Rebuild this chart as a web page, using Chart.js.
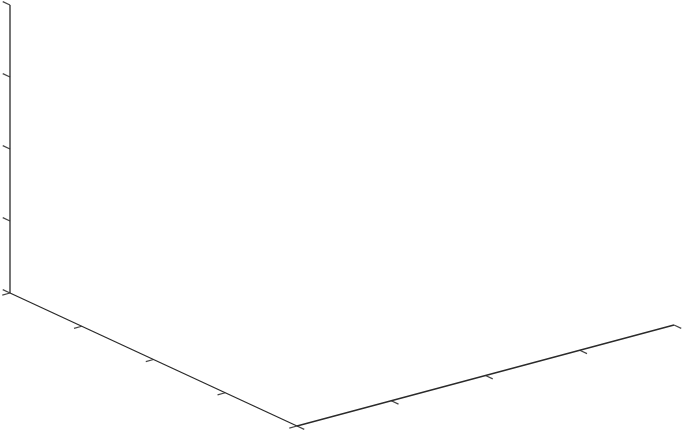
<!DOCTYPE html>
<html>
<head>
<meta charset="utf-8">
<script src="https://cdn.jsdelivr.net/npm/chart.js@4/dist/chart.umd.min.js"></script>
<style>
  html, body { margin: 0; padding: 0; background: #fff; }
  #wrap { width: 685px; height: 432px; }
</style>
</head>
<body>
<div id="wrap"><canvas id="plot"></canvas></div>
<script>
'use strict';

// Axis limits and tick values (empty 3-D axes, no labels shown)
const X_LIM = [0, 1];
const Y_LIM = [0, 1];
const Z_LIM = [0, 1];

const X_TICKS = [0, 0.25, 0.5, 0.75, 1];
const Y_TICKS = [0, 0.25, 0.5, 0.75, 1];
const Z_TICKS = [0, 0.25, 0.5, 0.75, 1];

// View: screen position of the front-bottom corner and axis directions (px)
const CORNER = { x: 297, y: 426 };
const DIR_X = { x: 377, y: -101 };
const DIR_Y = { x: -287, y: -133 };
const DIR_Z = { x: 0, y: -288 };
const TICK_LEN = 8;
const AXIS_COLOR = '#2a2a2a';
const TICK_COLOR = '#444444';

function norm(v, lim) {
    return (v - lim[0]) / (lim[1] - lim[0]);
}

// project a 3-D data point onto the page
function project(x, y, z) {
    const a = norm(x, X_LIM), b = norm(y, Y_LIM), c = norm(z, Z_LIM);
    return {
        x: CORNER.x + a * DIR_X.x + b * DIR_Y.x + c * DIR_Z.x,
        y: CORNER.y + a * DIR_X.y + b * DIR_Y.y + c * DIR_Z.y
    };
}

function unit(v, sign) {
    const l = Math.hypot(v.x, v.y);
    return { x: sign * v.x / l, y: sign * v.y / l };
}

function segment(p, q, colour, width) {
    return {
        data: [p, q],
        showLine: true,
        borderColor: colour,
        borderWidth: width,
        pointRadius: 0,
        fill: false
    };
}

const datasets = [];

// axis lines
datasets.push(segment(project(X_LIM[0], Y_LIM[0], Z_LIM[0]), project(X_LIM[1], Y_LIM[0], Z_LIM[0]), AXIS_COLOR, 1.3));
datasets.push(segment(project(X_LIM[0], Y_LIM[0], Z_LIM[0]), project(X_LIM[0], Y_LIM[1], Z_LIM[0]), AXIS_COLOR, 1.3));
datasets.push(segment(project(X_LIM[0], Y_LIM[1], Z_LIM[0]), project(X_LIM[0], Y_LIM[1], Z_LIM[1]), AXIS_COLOR, 1.3));

// tick marks, pointing out of the box
const outX = unit(DIR_Y, -1);
const outY = unit(DIR_X, -1);
const outZ = unit(DIR_Y, 1);

for (const t of X_TICKS) {
    const p = project(t, Y_LIM[0], Z_LIM[0]);
    datasets.push(segment(p, { x: p.x + outX.x * TICK_LEN, y: p.y + outX.y * TICK_LEN }, TICK_COLOR, 1.2));
}
for (const t of Y_TICKS) {
    const p = project(X_LIM[0], t, Z_LIM[0]);
    datasets.push(segment(p, { x: p.x + outY.x * TICK_LEN, y: p.y + outY.y * TICK_LEN }, TICK_COLOR, 1.2));
}
for (const t of Z_TICKS) {
    const p = project(X_LIM[0], Y_LIM[1], t);
    datasets.push(segment(p, { x: p.x + outZ.x * TICK_LEN, y: p.y + outZ.y * TICK_LEN }, TICK_COLOR, 1.2));
}

const config = {
    type: 'scatter',
    data: { datasets: datasets },
    options: {
        responsive: true,
        maintainAspectRatio: false,
        animation: false,
        layout: { padding: 0 },
        plugins: {
            legend: { display: false },
            tooltip: { enabled: false }
        },
        scales: {
            x: { type: 'linear', min: 0, max: 685, display: false },
            y: { type: 'linear', min: 0, max: 432, reverse: true, display: false }
        }
    }
};

new Chart(document.getElementById('plot'), config);
</script>
</body>
</html>
